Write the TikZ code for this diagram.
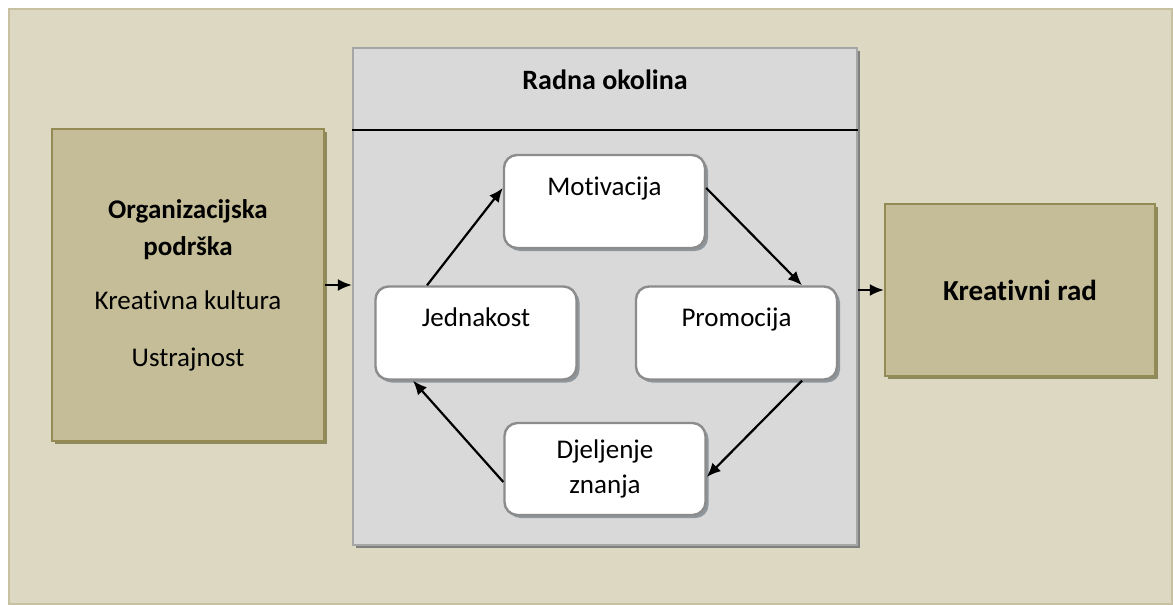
\documentclass[tikz,border=0pt]{standalone}
\usepackage{fontspec}
\setmainfont[Ligatures=NoCommon]{Carlito}
\usepackage{tikz}
\usetikzlibrary{arrows.meta}
\usetikzlibrary{shadows}
\usetikzlibrary{calc}

\definecolor{tanbg}{HTML}{DDD8C2}
\definecolor{tanedge}{HTML}{C7C1A1}
\definecolor{olivefill}{HTML}{C4BD97}
\definecolor{olivedraw}{HTML}{948A54}
\definecolor{oliveshade}{HTML}{8F8A5E}
\definecolor{panelfill}{HTML}{D9D9D9}
\definecolor{paneldraw}{HTML}{A6A6A6}
\definecolor{boxdraw}{HTML}{8C8C8C}
\definecolor{boxshade}{HTML}{8E969C}

\begin{document}
\begin{tikzpicture}[x=0.5pt,y=-0.5pt]
				\useasboundingbox (0,0) rectangle (1173,605);
				\draw[tanedge, fill=tanbg, line width=1.2pt] (9,9) rectangle (1172,604);
				\begin{scope}[every node/.style = {draw=olivedraw, fill=olivefill, line width=1.2pt,
						drop shadow={shadow xshift=1.5pt, shadow yshift=-1.5pt, fill=oliveshade, opacity=1},
						font = \fontsize{13.5}{18.5}\selectfont, align=center}]
					\node[minimum width=136pt, minimum height=156pt] (L) at (188,285)
						{\textbf{Organizacijska}\\\textbf{podrška}\\[8.5pt]Kreativna kultura\\[10pt]Ustrajnost};
					\node[minimum width=135pt, minimum height=86pt, font=\fontsize{14.5}{18}\selectfont\bfseries] (R) at (1020,290) {Kreativni rad};
				\end{scope}
				\node[draw=paneldraw, fill=panelfill, line width=1.2pt, minimum width=252pt, minimum height=248.5pt,
					drop shadow={shadow xshift=1.5pt, shadow yshift=-1.5pt, fill=gray, opacity=1}] (G) at (605,296.5) {};
				\draw[black, line width=0.7pt] ($(G.north west)+(0,83)$) -- ($(G.north east)+(0,83)$);
				\node[font=\fontsize{14}{17}\selectfont\bfseries] (T) at (605,80) {Radna okolina};
				\begin{scope}[every node/.style = {draw=boxdraw, fill=white, line width=1.2pt, rounded corners=6.5pt,
						drop shadow={shadow xshift=1.5pt, shadow yshift=-1.5pt, fill=boxshade, opacity=1},
						minimum width=100.5pt, inner sep=0pt, font = \fontsize{13.5}{17.5}\selectfont, align=center},
						toptext/.style = {text height=20pt, text depth=26.5pt}]
					\node[toptext] (M) at (604.5,201.5) {Motivacija};
					\node[toptext] (J) at (476,333) {Jednakost};
					\node[toptext] (P) at (736.5,333) {Promocija};
					\node[minimum height=46pt] (D) at (605,469) {Djeljenje\\znanja};
				\end{scope}
				\begin{scope}[>={Latex[length=7pt,width=6pt]},
						every edge/.style={draw=black, line width=1.1pt}]
					\path [->] (L.east) edge (L.east -| G.west);
					\path [->] (R.west -| G.east) edge (R.west);
					\path [->] ($(J.north)+(-49,0)$) edge ($(M.west)+(0,-13.5)$);
					\path [->] ($(M.east)+(0,-13.5)$) edge ($(P.north)+(65.5,0)$);
					\path [->] ($(P.south)+(65.5,0)$) edge ($(D.east)+(0,8)$);
					\path [->] ($(D.west)+(0,13)$) edge ($(J.south)+(-63,0)$);
				\end{scope}
			\end{tikzpicture}
\end{document}
